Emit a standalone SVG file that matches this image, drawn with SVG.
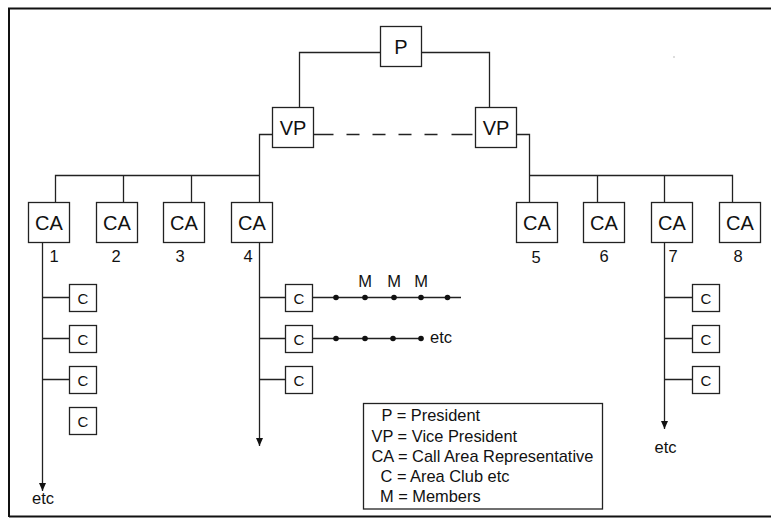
<svg xmlns="http://www.w3.org/2000/svg" width="771" height="518" viewBox="0 0 771 518">
<style>
.box{fill:#fff;stroke:#222;stroke-width:1.3}
.ln{fill:none;stroke:#222;stroke-width:1.3}
.t{font-family:"Liberation Sans",Arial,sans-serif;fill:#111}
.big{font-size:20px;text-anchor:middle}
.c{font-size:15px;text-anchor:middle}
.num{font-size:16.5px;text-anchor:middle}
.lg{font-size:16.4px}
.dot{fill:#111}
</style>
<defs>
<marker id="arr" viewBox="0 0 8 8" refX="8" refY="4" markerWidth="8" markerHeight="8" markerUnits="userSpaceOnUse" orient="auto">
<path d="M0,0.5 L8,4 L0,7.5 z" fill="#111"/>
</marker>
</defs>
<rect width="771" height="518" fill="#fff"/>
<path d="M9,517 V8.5 H771 M9,516.5 H771" fill="none" stroke="#111" stroke-width="2"/>
<rect x="673.5" y="56.5" width="1" height="1" fill="#777"/>

<g id="connectors">
<path class="ln" d="M380.5,52.5 H299.5 V107.5"/>
<path class="ln" d="M421.5,52.5 H489.5 V107.5"/>
<path class="ln" d="M313.5,134.5 H475.5" stroke-dasharray="20 13 13 13 13 13 13 13 13 14 21"/>
<path class="ln" d="M272.5,134.5 H259.5 V202.5"/>
<path class="ln" d="M55.5,202.5 V175.5 H259.5 M123.5,175.5 V202.5 M191.5,175.5 V202.5"/>
<path class="ln" d="M516.5,134.5 H529.5 V202.5"/>
<path class="ln" d="M529.5,175.5 H732.5 V202.5 M597.5,175.5 V202.5 M664.5,175.5 V202.5"/>
<path class="ln" d="M42.5,242.5 V491" marker-end="url(#arr)"/>
<path class="ln" d="M42.5,297.5 H69.5 M42.5,338.5 H69.5 M42.5,379.5 H69.5"/>
<path class="ln" d="M259.5,242.5 V446" marker-end="url(#arr)"/>
<path class="ln" d="M259.5,297.5 H285.5 M259.5,338.5 H285.5 M259.5,379.5 H285.5"/>
<path class="ln" d="M664.5,242.5 V429" marker-end="url(#arr)"/>
<path class="ln" d="M664.5,297.5 H692.5 M664.5,338.5 H692.5 M664.5,379.5 H692.5"/>
<path class="ln" d="M312.5,297.5 H461"/>
<path class="ln" d="M312.5,338.5 H421"/>
<g class="dot">
<circle cx="336" cy="297.5" r="2.8"/><circle cx="365" cy="297.5" r="2.8"/><circle cx="394" cy="297.5" r="2.8"/><circle cx="421" cy="297.5" r="2.8"/><circle cx="447.5" cy="297.5" r="2.8"/>
<circle cx="336" cy="338.5" r="2.8"/><circle cx="365" cy="338.5" r="2.8"/><circle cx="393" cy="338.5" r="2.8"/><circle cx="421" cy="338.5" r="2.8"/>
</g>
<g class="t num">
<text x="365" y="287">M</text><text x="394" y="287">M</text><text x="421" y="287">M</text>
</g>
<text class="t" x="430" y="343" font-size="16.5">etc</text>
<text class="t num" x="43" y="504">etc</text>
<text class="t num" x="665.5" y="453">etc</text>
</g>

<g id="P"><rect class="box" x="380.5" y="26.5" width="41" height="40"/><text class="t big" x="401" y="54">P</text></g>
<g id="VP1"><rect class="box" x="272.5" y="107.5" width="41" height="40"/><text class="t big" x="293" y="135">VP</text></g>
<g id="VP2"><rect class="box" x="475.5" y="107.5" width="41" height="40"/><text class="t big" x="496" y="135">VP</text></g>

<g id="CA1"><rect class="box" x="28.5" y="202.5" width="41" height="40"/><text class="t big" x="49" y="230">CA</text><text class="t num" x="54" y="262">1</text></g>
<g id="CA2"><rect class="box" x="96.5" y="202.5" width="41" height="40"/><text class="t big" x="117" y="230">CA</text><text class="t num" x="116" y="262">2</text></g>
<g id="CA3"><rect class="box" x="163.5" y="202.5" width="41" height="40"/><text class="t big" x="184" y="230">CA</text><text class="t num" x="180" y="262">3</text></g>
<g id="CA4"><rect class="box" x="231.5" y="202.5" width="41" height="40"/><text class="t big" x="252" y="230">CA</text><text class="t num" x="248" y="262">4</text></g>
<g id="CA5"><rect class="box" x="516.5" y="202.5" width="41" height="40"/><text class="t big" x="537" y="230">CA</text><text class="t num" x="536" y="263">5</text></g>
<g id="CA6"><rect class="box" x="583.5" y="202.5" width="41" height="40"/><text class="t big" x="604" y="230">CA</text><text class="t num" x="604" y="262">6</text></g>
<g id="CA7"><rect class="box" x="651.5" y="202.5" width="41" height="40"/><text class="t big" x="672" y="230">CA</text><text class="t num" x="673" y="262">7</text></g>
<g id="CA8"><rect class="box" x="719.5" y="202.5" width="41" height="40"/><text class="t big" x="740" y="230">CA</text><text class="t num" x="738" y="262">8</text></g>

<g id="C1a"><rect class="box" x="69.5" y="284.5" width="27" height="27"/><text class="t c" x="83" y="303.5">C</text></g>
<g id="C1b"><rect class="box" x="69.5" y="325.5" width="27" height="27"/><text class="t c" x="83" y="344.5">C</text></g>
<g id="C1c"><rect class="box" x="69.5" y="366.5" width="27" height="27"/><text class="t c" x="83" y="385.5">C</text></g>
<g id="C1d"><rect class="box" x="69.5" y="407.5" width="27" height="27"/><text class="t c" x="83" y="426.5">C</text></g>
<g id="C4a"><rect class="box" x="285.5" y="284.5" width="27" height="27"/><text class="t c" x="299" y="303.5">C</text></g>
<g id="C4b"><rect class="box" x="285.5" y="325.5" width="27" height="27"/><text class="t c" x="299" y="344.5">C</text></g>
<g id="C4c"><rect class="box" x="285.5" y="366.5" width="27" height="27"/><text class="t c" x="299" y="385.5">C</text></g>
<g id="C7a"><rect class="box" x="692.5" y="284.5" width="27" height="27"/><text class="t c" x="706" y="303.5">C</text></g>
<g id="C7b"><rect class="box" x="692.5" y="325.5" width="27" height="27"/><text class="t c" x="706" y="344.5">C</text></g>
<g id="C7c"><rect class="box" x="692.5" y="366.5" width="27" height="27"/><text class="t c" x="706" y="385.5">C</text></g>

<g id="legend">
<rect class="box" x="363.5" y="403.5" width="239" height="105.5"/>
<text class="t lg" x="381.5" y="421">P = President</text>
<text class="t lg" x="371.5" y="441.5">VP = Vice President</text>
<text class="t lg" x="371.5" y="461.5">CA = Call Area Representative</text>
<text class="t lg" x="380.5" y="481.5">C = Area Club etc</text>
<text class="t lg" x="380" y="501.5">M = Members</text>
</g>
</svg>
